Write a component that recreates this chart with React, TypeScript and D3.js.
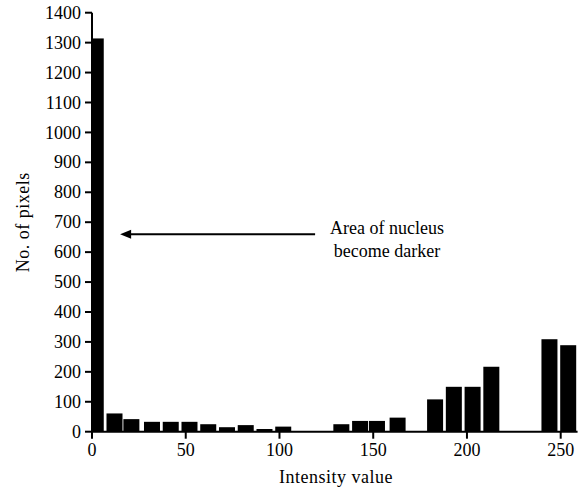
import React from "react";
import * as d3 from "d3";

// intensity bins (bar centres) and pixel counts
const intensity = [2, 12, 21, 32, 42, 52, 62, 72, 82, 92, 102, 133, 143, 152, 163, 183, 193, 203, 213, 244, 254];
const pixels = [1314, 61, 42, 33, 33, 33, 25, 15, 22, 9, 17, 25, 36, 36, 47, 108, 150, 150, 217, 309, 289];
const xTicks = [0, 50, 100, 150, 200, 250];
const yTicks = [0, 100, 200, 300, 400, 500, 600, 700, 800, 900, 1000, 1100, 1200, 1300, 1400];
const noteLines = ["Area of nucleus", "become darker"];

const font = "Liberation Serif";
const width = 582, height = 495;
const xMax = 259;

export default function App() {
  const x = d3.scaleLinear().domain([0, 250]).range([92, 560.7]);
  const y = d3.scaleLinear().domain([0, 1400]).range([431.7, 12.7]);
  const barW = 16;
  const tick = 7;
  const fs = 18;

  // arrow pointing at the tall bar
  const ay = y(660);
  const ax0 = x(119), ax1 = x(15);

  return (
    <svg
      width={width}
      height={height}
      style={{ position: "absolute", left: 0, top: 0, background: "#fff", fontFamily: font }}
    >
      <defs>
        <clipPath id="plotclip">
          <rect x={x(0)} y={0} width={x(xMax) - x(0)} height={y(0)} />
        </clipPath>
      </defs>

      <g clipPath="url(#plotclip)">
        {intensity.map((d, i) => (
          <rect
            key={i}
            x={x(d) - barW / 2}
            width={barW}
            y={y(pixels[i])}
            height={y(0) - y(pixels[i])}
            fill="#000"
          />
        ))}
      </g>

      {/* y axis */}
      <line x1={x(0)} x2={x(0)} y1={y(0)} y2={y(1400)} stroke="#000" strokeWidth={2} />
      {yTicks.map((t) => (
        <g key={t} transform={`translate(${x(0)},${y(t)})`}>
          <line x1={-tick} x2={0} stroke="#000" strokeWidth={2} />
          <text x={-tick - 4} dy="0.34em" textAnchor="end" fontSize={fs} style={{ fontFamily: font }}>
            {t}
          </text>
        </g>
      ))}

      {/* x axis */}
      <line x1={x(0)} x2={x(xMax)} y1={y(0)} y2={y(0)} stroke="#000" strokeWidth={2} />
      {xTicks.map((t) => (
        <g key={t} transform={`translate(${x(t)},${y(0)})`}>
          <line y1={0} y2={tick} stroke="#000" strokeWidth={2} />
          <text y={tick + 5} dy="0.71em" textAnchor="middle" fontSize={fs} style={{ fontFamily: font }}>
            {t}
          </text>
        </g>
      ))}

      {/* axis titles */}
      <text x={336} y={483} textAnchor="middle" fontSize={fs} letterSpacing={0.5} style={{ fontFamily: font }}>
        Intensity value
      </text>
      <text
        transform={`translate(29,${(y(0) + y(1400)) / 2}) rotate(-90)`}
        textAnchor="middle"
        fontSize={fs}
        letterSpacing={0.5}
        style={{ fontFamily: font }}
      >
        No. of pixels
      </text>

      {/* annotation */}
      <line x1={ax0} x2={ax1 + 8} y1={ay} y2={ay} stroke="#000" strokeWidth={2} />
      <path d={`M${ax1},${ay} L${ax1 + 11},${ay - 4.5} L${ax1 + 11},${ay + 4.5} Z`} fill="#000" />
      {noteLines.map((s, i) => (
        <text key={s} x={387} y={234 + i * 22.5} textAnchor="middle" fontSize={fs} style={{ fontFamily: font }}>
          {s}
        </text>
      ))}
    </svg>
  );
}
